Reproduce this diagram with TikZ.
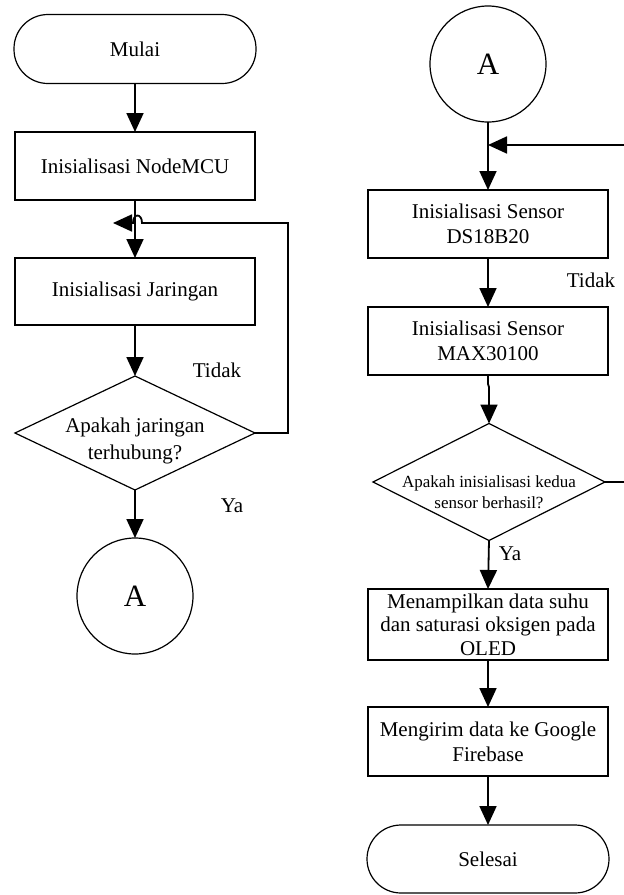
\documentclass[tikz,border=0pt]{standalone}
\usepackage{fontspec}
\setmainfont{Liberation Serif}
\usetikzlibrary{shapes.geometric,arrows.meta}
\begin{document}
\begin{tikzpicture}[x=1pt,y=-1pt,
  shp/.style={draw=black,line width=1.2pt,inner sep=0pt,outer sep=0pt},
  box/.style={shp,rectangle,minimum width=240pt,align=center,font=\fontsize{21}{25}\selectfont},
  term/.style={shp,rectangle,rounded corners=34pt,minimum width=242pt,minimum height=69pt,font=\fontsize{21}{25}\selectfont},
  conn/.style={draw=black,line width=1.8pt},
  arr/.style={conn,-{Triangle[length=19pt,width=17pt]}},
  txt/.style={inner sep=0pt,font=\fontsize{21}{25}\selectfont},
  conncirc/.style={shp,circle,minimum size=116pt,font=\fontsize{31}{31}\selectfont}
]
\useasboundingbox (0,0) rectangle (624,895);

% left column
\node[term] (mulai) at (135,49) {Mulai};
\node[box,minimum height=68pt] (nmcu) at (135,166) {Inisialisasi NodeMCU};
\node[box,minimum height=67pt] (jar) at (135,291.5) {Inisialisasi Jaringan};
\node[shp,diamond,minimum width=240pt,minimum height=114pt] (d1) at (135,433) {};
\node[txt,align=center,font=\fontsize{21}{27}\selectfont] (d1t) at (135,441) {Apakah jaringan\\terhubung?};
\node[conncirc] (a1) at (135,596) {A};
\node[txt] (tidak1) at (217,370) {Tidak};
\node[txt] (ya1) at (232,506) {Ya};

\draw[arr] (mulai) -- (nmcu);
\draw[arr] (nmcu) -- (jar);
\draw[arr] (jar) -- (d1);
\draw[arr] (d1) -- (a1);

\coordinate (l1) at (288,433);
\coordinate (l2) at (288,223);
\coordinate (l3) at (142,223);
\coordinate (l4) at (133,223);
\coordinate (l5) at (113,223);
\draw[arr] (d1.east) -- (l1) -- (l2) -- (l3) .. controls +(0,-10) and +(0,-10) .. (l4) -- (l5);

% right column
\node[conncirc] (a2) at (488,64) {A};
\node[box,minimum height=68pt] (ds) at (488,224) {Inisialisasi Sensor\\DS18B20};
\node[box,minimum height=68pt] (max) at (488,341) {Inisialisasi Sensor\\MAX30100};
\node[shp,diamond,minimum width=232pt,minimum height=117pt] (d2) at (489,482) {};
\node[txt,align=center,font=\fontsize{17}{21}\selectfont] (d2t) at (489,492) {Apakah inisialisasi kedua\\sensor berhasil?};
\node[box,minimum height=71pt,font=\fontsize{21}{23.5}\selectfont] (oled) at (488,624.5) {Menampilkan data suhu\\dan saturasi oksigen pada\\OLED};
\node[box,minimum height=69pt] (fb) at (488,741.5) {Mengirim data ke Google\\Firebase};
\node[term,minimum height=68pt] (sel) at (488,859) {Selesai};
\node[txt] (tidak2) at (591,280) {Tidak};
\node[txt] (ya2) at (510,554) {Ya};

\draw[arr] (a2) -- (ds);
\draw[arr] (ds) -- (max);
\draw[arr] (max.south) -- ++(0,9) -- ++(1,3) -- (d2.north);
\draw[arr] (d2.south) -- (oled.north);
\draw[arr] (oled) -- (fb);
\draw[arr] (fb) -- (sel);

\coordinate (r1) at (636,482);
\coordinate (r2) at (636,145);
\coordinate (j2) at (488,145);
\draw[arr] (d2.east) -- (r1) -- (r2) -- (j2);
\end{tikzpicture}
\end{document}
